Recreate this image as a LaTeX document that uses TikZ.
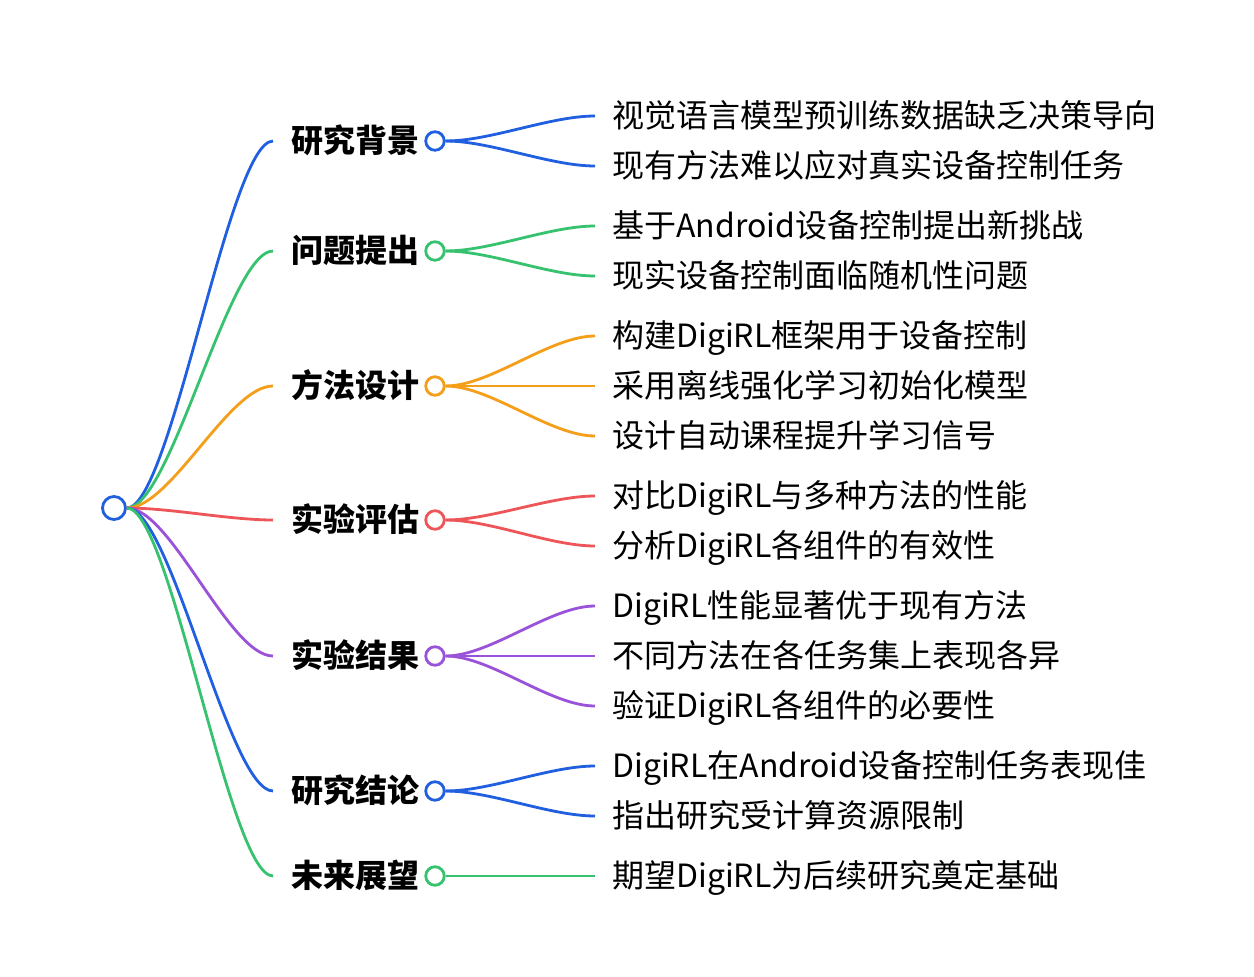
\documentclass[tikz,border=0pt]{standalone}
\usepackage{fontspec}
\newfontfamily\cjk{Noto Sans CJK SC}
\usetikzlibrary{positioning}
\definecolor{mmblue}{HTML}{1F5FE0}
\definecolor{mmgreen}{HTML}{36C26E}
\definecolor{mmorange}{HTML}{F59E1A}
\definecolor{mmred}{HTML}{EE5558}
\definecolor{mmpurple}{HTML}{9A52D8}
\tikzstyle{root} = [circle, draw=mmblue, line width=2.8pt, minimum size=23pt, inner sep=0pt, fill=white]
\tikzstyle{branch} = [anchor=west, inner xsep=18pt, inner ysep=0pt, text height=25pt, text depth=1.5pt, font=\cjk\bfseries\fontsize{32pt}{38pt}\selectfont]
\tikzstyle{dot} = [circle, line width=2.8pt, minimum size=18.5pt, inner sep=0pt, fill=white]
\tikzstyle{leaf} = [anchor=west, inner xsep=17pt, inner ysep=0pt, text height=25pt, text depth=1.5pt, font=\cjk\fontsize{32pt}{38pt}\selectfont]
\tikzstyle{link} = [line width=2.8pt]
\begin{document}
\begin{tikzpicture}[x=1pt, y=-1pt]
    \useasboundingbox [fill=white] (0,0) rectangle (1254,977);
    % root and main branches
    \node (root) [root] at (114,508) {};
    \node (bkg) [branch] at (273,141) {研究背景};
    \node (prob) [branch] at (273,251) {问题提出};
    \node (meth) [branch] at (273,386) {方法设计};
    \node (eval) [branch] at (273,520) {实验评估};
    \node (res) [branch] at (273,656) {实验结果};
    \node (concl) [branch] at (273,791) {研究结论};
    \node (fut) [branch] at (273,876) {未来展望};
    \node (bkgdot) [dot, draw=mmblue] at (435,141) {};
    \node (probdot) [dot, draw=mmgreen] at (435,251) {};
    \node (methdot) [dot, draw=mmorange] at (435,386) {};
    \node (evaldot) [dot, draw=mmred] at (435,520) {};
    \node (resdot) [dot, draw=mmpurple] at (435,656) {};
    \node (concldot) [dot, draw=mmblue] at (435,791) {};
    \node (futdot) [dot, draw=mmgreen] at (435,876) {};
    % leaves
    \node (bkg1) [leaf] at (595,116) {视觉语言模型预训练数据缺乏决策导向};
    \node (bkg2) [leaf] at (595,166) {现有方法难以应对真实设备控制任务};
    \node (prob1) [leaf] at (595,226) {基于Android设备控制提出新挑战};
    \node (prob2) [leaf] at (595,276) {现实设备控制面临随机性问题};
    \node (meth1) [leaf] at (595,336) {构建DigiRL框架用于设备控制};
    \node (meth2) [leaf] at (595,386) {采用离线强化学习初始化模型};
    \node (meth3) [leaf] at (595,436) {设计自动课程提升学习信号};
    \node (eval1) [leaf] at (595,496) {对比DigiRL与多种方法的性能};
    \node (eval2) [leaf] at (595,546) {分析DigiRL各组件的有效性};
    \node (res1) [leaf] at (595,606) {DigiRL性能显著优于现有方法};
    \node (res2) [leaf] at (595,656) {不同方法在各任务集上表现各异};
    \node (res3) [leaf] at (595,706) {验证DigiRL各组件的必要性};
    \node (concl1) [leaf] at (595,766) {DigiRL在Android设备控制任务表现佳};
    \node (concl2) [leaf] at (595,816) {指出研究受计算资源限制};
    \node (fut1) [leaf] at (595,876) {期望DigiRL为后续研究奠定基础};

    % root to branches
    \draw [link, mmblue] (root.east) .. controls +(44,0) and +(-44,0) .. (bkg.west);
    \draw [link, mmgreen] (root.east) .. controls +(44,0) and +(-44,0) .. (prob.west);
    \draw [link, mmorange] (root.east) .. controls +(44,0) and +(-44,0) .. (meth.west);
    \draw [link, mmred] (root.east) .. controls +(44,0) and +(-44,0) .. (eval.west);
    \draw [link, mmpurple] (root.east) .. controls +(44,0) and +(-44,0) .. (res.west);
    \draw [link, mmblue] (root.east) .. controls +(44,0) and +(-44,0) .. (concl.west);
    \draw [link, mmgreen] (root.east) .. controls +(44,0) and +(-44,0) .. (fut.west);
    % branches to leaves
    \draw [link, mmblue] (bkgdot.east) .. controls +(45,0) and +(-45,0) .. (bkg1.west);
    \draw [link, mmblue] (bkgdot.east) .. controls +(45,0) and +(-45,0) .. (bkg2.west);
    \draw [link, mmgreen] (probdot.east) .. controls +(45,0) and +(-45,0) .. (prob1.west);
    \draw [link, mmgreen] (probdot.east) .. controls +(45,0) and +(-45,0) .. (prob2.west);
    \draw [link, mmorange] (methdot.east) .. controls +(45,0) and +(-45,0) .. (meth1.west);
    \draw [link, mmorange] (methdot.east) -- (meth2.west);
    \draw [link, mmorange] (methdot.east) .. controls +(45,0) and +(-45,0) .. (meth3.west);
    \draw [link, mmred] (evaldot.east) .. controls +(45,0) and +(-45,0) .. (eval1.west);
    \draw [link, mmred] (evaldot.east) .. controls +(45,0) and +(-45,0) .. (eval2.west);
    \draw [link, mmpurple] (resdot.east) .. controls +(45,0) and +(-45,0) .. (res1.west);
    \draw [link, mmpurple] (resdot.east) -- (res2.west);
    \draw [link, mmpurple] (resdot.east) .. controls +(45,0) and +(-45,0) .. (res3.west);
    \draw [link, mmblue] (concldot.east) .. controls +(45,0) and +(-45,0) .. (concl1.west);
    \draw [link, mmblue] (concldot.east) .. controls +(45,0) and +(-45,0) .. (concl2.west);
    \draw [link, mmgreen] (futdot.east) -- (fut1.west);
\end{tikzpicture}
\end{document}
